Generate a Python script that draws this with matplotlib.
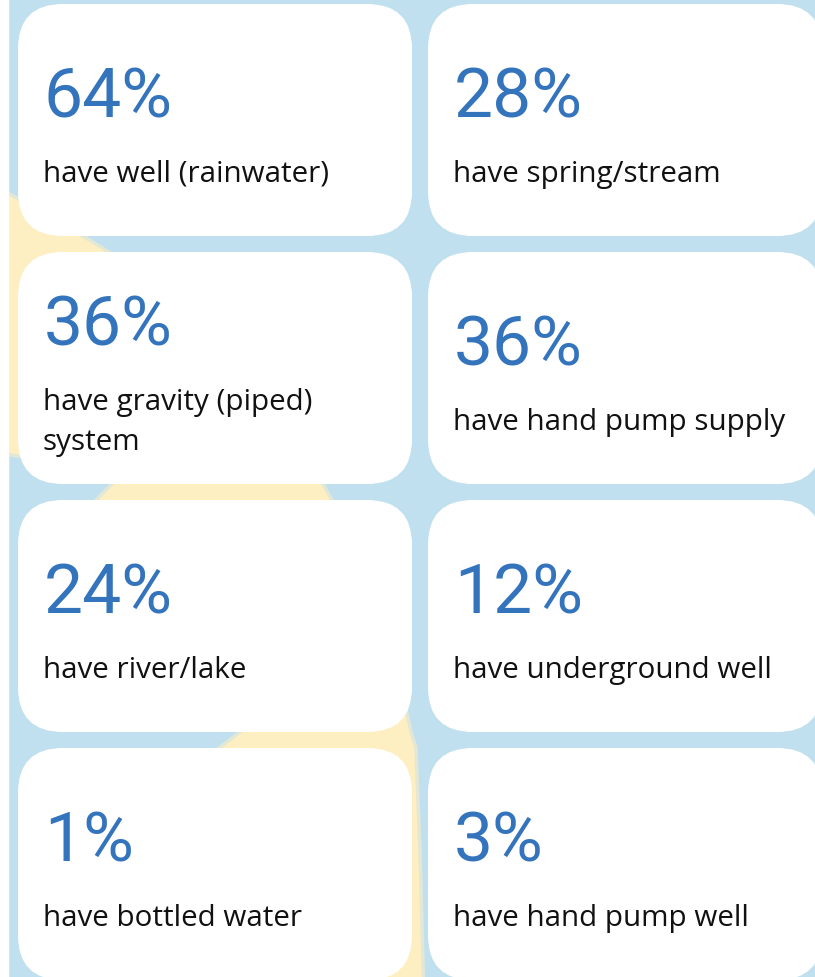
#!/usr/bin/env python
# -*- coding: utf-8 -*-

import matplotlib
matplotlib.use("Agg")
from matplotlib import pyplot as plt
from matplotlib.patches import FancyBboxPatch, Polygon, Rectangle

# share of households by water source
values = [64, 28, 36, 36, 24, 12, 1, 3]
labels = [
    "have well (rainwater)",
    "have spring/stream",
    "have gravity (piped)\nsystem",
    "have hand pump supply",
    "have river/lake",
    "have underground well",
    "have bottled water",
    "have hand pump well",
]

BLUE_BG = "#c1e0ef"
YELLOW = "#fdefc2"
NUM_COLOR = "#3474bc"
TEXT_COLOR = "#111111"

W, H = 815, 977


def plot_cards(values, labels, out):
    fig = plt.figure(figsize=(W / 100, H / 100), dpi=100)
    ax = fig.add_axes([0, 0, 1, 1])
    ax.set_xlim(0, W)
    ax.set_ylim(H, 0)
    ax.axis("off")

    # background
    ax.add_patch(Rectangle((8, 0), W, H, color=BLUE_BG, zorder=0))

    # yellow blob behind the cards (decoration)
    blob = [(-60, 150), (8, 193), (83, 236), (109, 252), (200, 330),
            (285, 425), (323, 484), (332, 500), (385, 610), (411, 732),
            (416, 748), (420, 850), (424, 1000), (150, 1000), (200, 765),
            (219, 748), (240, 732), (255, 718), (80, 515), (96, 500),
            (112, 484), (125, 470), (10, 455), (-60, 445)]
    ax.add_patch(Polygon(blob, closed=True, facecolor=YELLOW,
                         edgecolor="#e2e7d6", linewidth=2.5, zorder=1))
    ax.add_patch(Rectangle((0, 0), 8, H, color="white", zorder=2))

    card_w, card_h = 394, 232
    for i, (v, lab) in enumerate(zip(values, labels)):
        col, row = i % 2, i // 2
        x0 = 18 + col * 410
        y0 = 4 + row * 248
        ax.add_patch(FancyBboxPatch((x0, y0), card_w, card_h,
                                    boxstyle="round,pad=0,rounding_size=45",
                                    facecolor="white", edgecolor="none",
                                    zorder=3))
        lines = lab.split("\n")
        base = y0 + 114 - (len(lines) - 1) * 20
        ax.text(x0 + 26, base, "%d%%" % v, color=NUM_COLOR,
                fontsize=50, family="Roboto", va="baseline", ha="left",
                zorder=4)
        for k, line in enumerate(lines):
            ax.text(x0 + 25, base + 64 + 40 * k, line, color=TEXT_COLOR,
                    fontsize=21.3, family="Open Sans", va="baseline",
                    ha="left", zorder=4)

    fig.savefig(out, dpi=100)


if __name__ == "__main__":
    plot_cards(values, labels, "out.png")
